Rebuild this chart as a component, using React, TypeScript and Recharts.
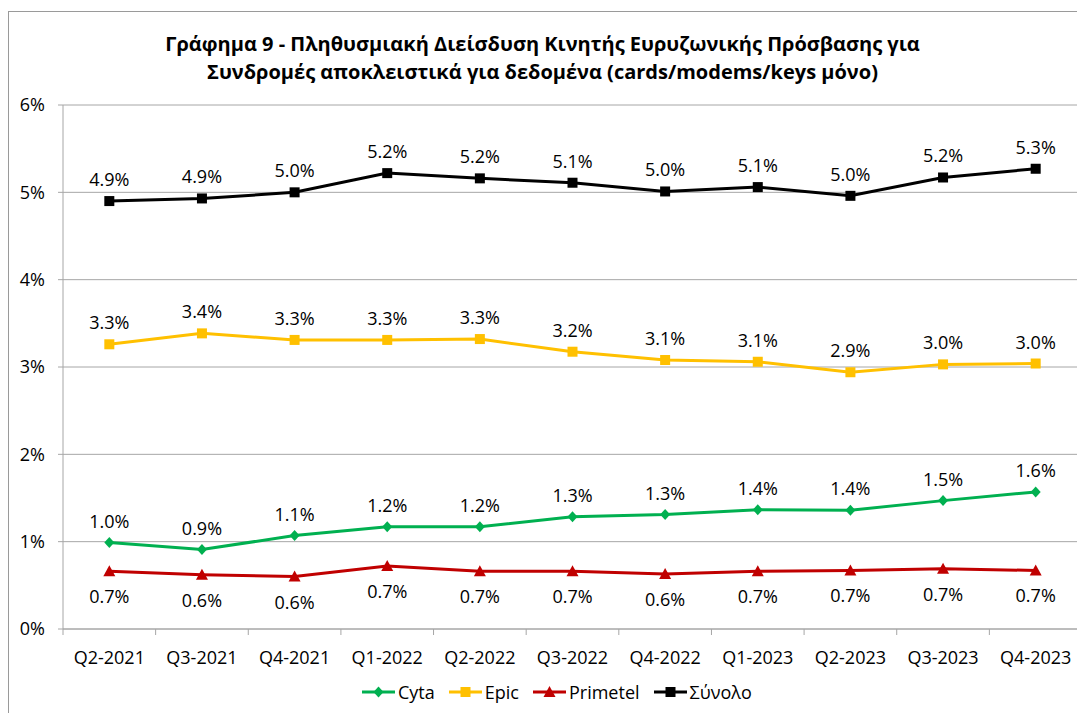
import React from "react";
import { LineChart, Line, XAxis, YAxis, CartesianGrid, LabelList } from "recharts";

const quarters = [
  "Q2-2021", "Q3-2021", "Q4-2021", "Q1-2022", "Q2-2022", "Q3-2022",
  "Q4-2022", "Q1-2023", "Q2-2023", "Q3-2023", "Q4-2023",
];
const cyta = [0.99, 0.91, 1.07, 1.17, 1.17, 1.285, 1.31, 1.365, 1.36, 1.47, 1.57];
const epic = [3.26, 3.385, 3.31, 3.31, 3.32, 3.175, 3.08, 3.06, 2.94, 3.03, 3.04];
const primetel = [0.66, 0.62, 0.6, 0.72, 0.66, 0.66, 0.63, 0.66, 0.67, 0.69, 0.67];
const total = [4.9, 4.93, 5.0, 5.22, 5.16, 5.11, 5.01, 5.06, 4.96, 5.17, 5.27];
const yTicks = [0, 1, 2, 3, 4, 5, 6];

const titleLines = [
  "Γράφημα 9 - Πληθυσμιακή Διείσδυση Κινητής Ευρυζωνικής Πρόσβασης για",
  "Συνδρομές αποκλειστικά για δεδομένα (cards/modems/keys μόνο)",
];

type Shape = "diamond" | "square" | "triangle";
const series: { key: string; name: string; color: string; shape: Shape; below: boolean }[] = [
  { key: "cyta", name: "Cyta", color: "#00B050", shape: "diamond", below: false },
  { key: "epic", name: "Epic", color: "#FFC000", shape: "square", below: false },
  { key: "primetel", name: "Primetel", color: "#C00000", shape: "triangle", below: true },
  { key: "total", name: "Σύνολο", color: "#000000", shape: "square", below: false },
];

const data = quarters.map((q, i) => ({
  q,
  cyta: cyta[i],
  epic: epic[i],
  primetel: primetel[i],
  total: total[i],
}));

const FONT = "'Open Sans', 'DejaVu Sans', sans-serif";
const GRID = "#A6A6A6";
const W = 1077;
const H = 705;
const MARGIN = { top: 97, right: 3, left: 10, bottom: 44 };
const Y_W = 45;
const BAND = (W - MARGIN.left - MARGIN.right - Y_W) / quarters.length;

function Marker({ cx, cy, shape, color }: { cx: number; cy: number; shape: Shape; color: string }) {
  if (cx == null || cy == null) return null;
  if (shape === "square") return <rect x={cx - 5} y={cy - 5} width={10} height={10} fill={color} />;
  if (shape === "diamond")
    return <polygon points={`${cx},${cy - 5.5} ${cx + 5},${cy} ${cx},${cy + 5.5} ${cx - 5},${cy}`} fill={color} />;
  return <polygon points={`${cx},${cy - 6} ${cx + 6},${cy + 5} ${cx - 6},${cy + 5}`} fill={color} />;
}

// category labels sit in the middle of each band, tick marks on the band edges
function XTick(props: any) {
  const { x, y, payload, index } = props;
  const half = BAND / 2;
  return (
    <g>
      <line x1={x - half} x2={x - half} y1={y} y2={y + 6} stroke={GRID} />
      {index === quarters.length - 1 && <line x1={x + half} x2={x + half} y1={y} y2={y + 6} stroke={GRID} />}
      <text x={x} y={y + 28} textAnchor="middle" dominantBaseline="central" fontSize={18} fill="#000" fontFamily={FONT}>
        {payload.value}
      </text>
    </g>
  );
}

export default function App() {
  return (
    <div style={{ position: "relative", width: W, height: H, overflow: "hidden", fontFamily: FONT }}>
      <div
        style={{
          position: "absolute", left: 0, top: 3, width: W + 20, height: H + 20,
          borderLeft: "1.5px solid #9a9a9a", borderTop: "1.5px solid #9a9a9a",
        }}
      />
      <div
        style={{
          position: "absolute", left: 0, top: 22, width: 1069, textAlign: "center",
          fontWeight: 700, fontSize: 20, lineHeight: "28px", color: "#000",
        }}
      >
        {titleLines.map((t) => (
          <div key={t}>{t}</div>
        ))}
      </div>
      <LineChart width={W} height={H} data={data} margin={MARGIN} style={{ position: "absolute", left: 0, top: 0 }}>
        <CartesianGrid vertical={false} stroke={GRID} strokeWidth={1} />
        <XAxis
          dataKey="q"
          height={40}
          padding={{ left: BAND / 2, right: BAND / 2 }}
          axisLine={{ stroke: GRID }}
          tickLine={false}
          tickSize={0}
          tickMargin={0}
          interval={0}
          tick={<XTick />}
        />
        <YAxis
          width={Y_W}
          domain={[0, 6]}
          ticks={yTicks}
          tickFormatter={(v) => `${v}%`}
          axisLine={{ stroke: GRID }}
          tickLine={{ stroke: GRID }}
          tickSize={5}
          tickMargin={13}
          tick={{ fill: "#000", fontSize: 18, fontFamily: FONT }}
        />
        {series.map((s) => (
          <Line
            key={s.key}
            dataKey={s.key}
            name={s.name}
            stroke={s.color}
            strokeWidth={3}
            isAnimationActive={false}
            dot={(p: any) => <Marker key={p.index} cx={p.cx} cy={p.cy} shape={s.shape} color={s.color} />}
            activeDot={false}
          >
            <LabelList
              dataKey={s.key}
              content={(p: any) => (
                <text
                  x={p.x}
                  y={p.y + (s.below ? 25 : -22)}
                  textAnchor="middle"
                  dominantBaseline="central"
                  fontSize={18}
                  fill="#000"
                  fontFamily={FONT}
                >
                  {`${Number(p.value).toFixed(1)}%`}
                </text>
              )}
            />
          </Line>
        ))}
      </LineChart>
      <div
        style={{
          position: "absolute", left: 354, top: 672, height: 24, display: "flex",
          alignItems: "center", gap: 14, fontSize: 18, color: "#000",
        }}
      >
        {series.map((s) => (
          <div key={s.key} style={{ display: "flex", alignItems: "center", gap: 3 }}>
            <svg width={33} height={14}>
              <line x1={0} x2={33} y1={7} y2={7} stroke={s.color} strokeWidth={3} />
              <Marker cx={16.5} cy={7} shape={s.shape} color={s.color} />
            </svg>
            <span>{s.name}</span>
          </div>
        ))}
      </div>
    </div>
  );
}
